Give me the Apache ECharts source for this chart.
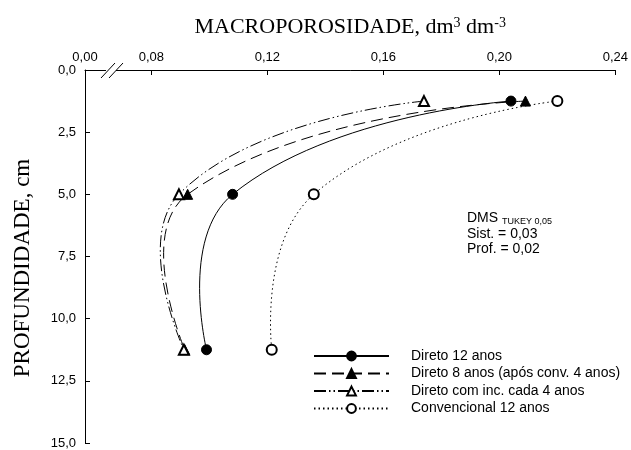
<!DOCTYPE html>
<html>
<head>
<meta charset="UTF-8">
<title>Macroporosidade</title>
<script src="https://cdn.jsdelivr.net/npm/echarts@6/dist/echarts.min.js"></script>
<style>
  html, body { margin: 0; padding: 0; background: #fff; }
  #main { width: 631px; height: 450px; }
</style>
</head>
<body>
<div id="main"></div>
<script>
// profundidade (cm) de cada camada
var depth = [1.25, 5.0, 11.25];
// macroporosidade (dm3 dm-3) por sistema
var direto12 = [0.204, 0.108, 0.099];
var direto8 = [0.209, 0.0925, 0.0915];
var diretoInc = [0.174, 0.0895, 0.0912];
var convencional = [0.220, 0.136, 0.1215];

var seriesNames = ['Direto 12 anos', 'Direto 8 anos (após conv. 4 anos)', 'Direto com inc. cada 4 anos', 'Convencional 12 anos'];

// eixo x quebrado: o inicio do eixo representa 0,00
var xBreakStart = 0.0571;
var xTickValues = [0.08, 0.12, 0.16, 0.20, 0.24];
var xLabelValues = [xBreakStart, 0.08, 0.12, 0.16, 0.20, 0.24];
var xTickLabels = ['0,00', '0,08', '0,12', '0,16', '0,20', '0,24'];

function pairs(xs) {
  var out = [];
  for (var i = 0; i < xs.length; i++) out.push([xs[i], depth[i]]);
  return out;
}

// curva suave (bezier tipo catmull) passando pelos pontos, sem limitar os pontos de controle
function curveRender(dash) {
  return function (params, api) {
    if (params.dataIndex !== 0) return;
    var n = params.dataInsideLength;
    var p = [];
    for (var i = 0; i < n; i++) p.push(api.coord([api.value(0, i), api.value(1, i)]));
    var s = 0.5;
    var cpIn = [], cpOut = [];
    for (var k = 0; k < n; k++) {
      if (k === 0 || k === n - 1) { cpIn.push(p[k]); cpOut.push(p[k]); continue; }
      var vx = p[k + 1][0] - p[k - 1][0], vy = p[k + 1][1] - p[k - 1][1];
      var d0 = Math.hypot(p[k][0] - p[k - 1][0], p[k][1] - p[k - 1][1]);
      var d1 = Math.hypot(p[k + 1][0] - p[k][0], p[k + 1][1] - p[k][1]);
      var r = d1 / (d0 + d1);
      cpIn.push([p[k][0] - vx * s * (1 - r), p[k][1] - vy * s * (1 - r)]);
      cpOut.push([p[k][0] + vx * s * r, p[k][1] + vy * s * r]);
    }
    var d = 'M' + p[0][0] + ' ' + p[0][1];
    for (var j = 0; j < n - 1; j++) {
      d += ' C' + cpOut[j][0] + ' ' + cpOut[j][1] + ' ' + cpIn[j + 1][0] + ' ' + cpIn[j + 1][1] + ' ' + p[j + 1][0] + ' ' + p[j + 1][1];
    }
    return {
      type: 'path',
      shape: { pathData: d },
      style: { fill: 'none', stroke: '#000', lineWidth: 1, lineDash: dash === 'solid' ? null : dash }
    };
  };
}

function curveSeries(xs, dash) {
  return {
    type: 'custom',
    data: pairs(xs),
    renderItem: curveRender(dash),
    z: 1,
    silent: true
  };
}

function pointSeries(name, xs, symbol, dash) {
  return {
    name: name,
    type: 'line',
    data: pairs(xs),
    symbol: symbol,
    symbolSize: 10,
    showSymbol: true,
    color: '#000',
    z: 3,
    lineStyle: { color: '#000', width: 1, type: dash, opacity: 0 },
    itemStyle: { color: '#000', borderColor: '#000', borderWidth: 1 },
    emphasis: { disabled: true }
  };
}

var chart = echarts.init(document.getElementById('main'));

var option = {
  animation: false,
  backgroundColor: '#fff',
  grid: { left: 85, right: 15, top: 70, bottom: 7 },
  legend: {
    orient: 'vertical',
    left: 313,
    top: 349,
    padding: 0,
    itemWidth: 75,
    itemHeight: 11,
    itemGap: 3.5,
    data: seriesNames,
    lineStyle: { opacity: 1 },
    textStyle: { fontFamily: 'Liberation Sans, Arial', fontSize: 14, color: '#000', padding: [0, 0, 0, 17] }
  },
  xAxis: {
    type: 'value',
    position: 'top',
    min: xBreakStart,
    max: 0.24,
    name: '{a|MACROPOROSIDADE, dm}{s|3}{a| dm}{s|-3}',
    nameLocation: 'middle',
    nameGap: 32,
    nameTextStyle: {
      rich: {
        a: { fontFamily: 'Liberation Serif, Times New Roman', fontSize: 22, color: '#000' },
        s: { fontFamily: 'Liberation Serif, Times New Roman', fontSize: 14, color: '#000', verticalAlign: 'top', padding: [0, 0, 8, 0] }
      }
    },
    splitLine: { show: false },
    axisLine: { lineStyle: { color: '#000', width: 1 } },
    axisTick: { inside: true, length: 5, customValues: xTickValues, lineStyle: { color: '#000' } },
    axisLabel: {
      customValues: xLabelValues,
      margin: 6,
      fontFamily: 'Liberation Sans, Arial',
      fontSize: 13,
      color: '#000',
      formatter: function (v) {
        for (var i = 0; i < xLabelValues.length; i++) {
          if (Math.abs(v - xLabelValues[i]) < 1e-6) return xTickLabels[i];
        }
        return '';
      }
    }
  },
  yAxis: {
    type: 'value',
    inverse: true,
    min: 0,
    max: 15,
    interval: 2.5,
    splitLine: { show: false },
    axisLine: { onZero: false, lineStyle: { color: '#000', width: 1 } },
    axisTick: { inside: true, length: 5, lineStyle: { color: '#000' } },
    axisLabel: {
      margin: 9,
      fontFamily: 'Liberation Sans, Arial',
      fontSize: 13,
      color: '#000',
      formatter: function (v) { return v.toFixed(1).replace('.', ','); }
    }
  },
  graphic: [
    // quebra do eixo x
    { type: 'rect', shape: { x: 106, y: 67, width: 10, height: 6 }, style: { fill: '#fff' }, z: 100 },
    { type: 'line', shape: { x1: 101, y1: 78, x2: 115, y2: 63 }, style: { stroke: '#000', lineWidth: 1 }, z: 101 },
    { type: 'line', shape: { x1: 109, y1: 78, x2: 123, y2: 63 }, style: { stroke: '#000', lineWidth: 1 }, z: 101 },
    {
      type: 'text', x: 23, y: 268, rotation: Math.PI / 2,
      style: {
        text: 'PROFUNDIDADE, cm', align: 'center', verticalAlign: 'middle',
        font: '23px "Liberation Serif", "Times New Roman"', fill: '#000'
      }
    },
    {
      type: 'text', x: 467, y: 218,
      style: {
        text: '{a|DMS }{s|TUKEY 0,05}', verticalAlign: 'middle',
        rich: {
          a: { fontFamily: 'Liberation Sans, Arial', fontSize: 14, fill: '#000' },
          s: { fontFamily: 'Liberation Sans, Arial', fontSize: 9, fill: '#000', padding: [8, 0, 0, 0] }
        }
      }
    },
    {
      type: 'text', x: 467, y: 234,
      style: { text: 'Sist. = 0,03', verticalAlign: 'middle', font: '14px "Liberation Sans", Arial', fill: '#000' }
    },
    {
      type: 'text', x: 467, y: 249,
      style: { text: 'Prof. = 0,02', verticalAlign: 'middle', font: '14px "Liberation Sans", Arial', fill: '#000' }
    }
  ],
  series: [
    curveSeries(direto12, 'solid'),
    curveSeries(direto8, [12, 6]),
    curveSeries(diretoInc, [12, 3, 1.5, 3, 1.5, 3]),
    curveSeries(convencional, [1.5, 3]),
    pointSeries(seriesNames[0], direto12, 'circle', 'solid'),
    pointSeries(seriesNames[1], direto8, 'triangle', [12, 6]),
    pointSeries(seriesNames[2], diretoInc, 'emptyTriangle', [12, 3, 1.5, 3, 1.5, 3]),
    pointSeries(seriesNames[3], convencional, 'emptyCircle', [1.5, 3])
  ]
};

chart.setOption(option);
</script>
</body>
</html>
